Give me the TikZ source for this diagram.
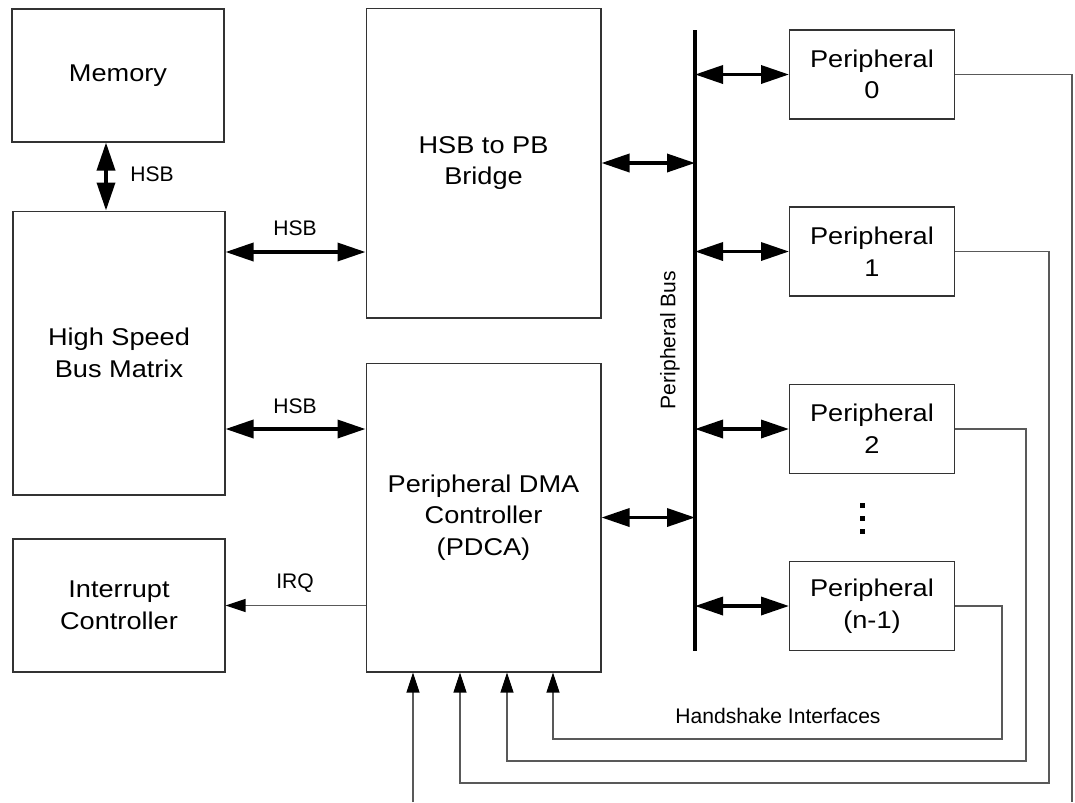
\documentclass[tikz,border=0pt]{standalone}
\usepackage{fontspec}
\setmainfont{Liberation Sans}
\newfontfamily\widesans{Liberation Sans}[FakeStretch=1.12]
\usetikzlibrary{arrows.meta}

\tikzset{
    block/.style = {draw = black!80, line width = 0.6pt, align = center, inner sep = 0pt,
        font = \widesans\fontsize{13.8}{18}\selectfont},
    busline/.style = {line width = 1.8pt},
    busarrow/.style = {line width = 2pt,
        {Triangle[length = 0.56cm, width = 0.36cm]}-{Triangle[length = 0.56cm, width = 0.36cm]}},
    sigarrow/.style = {draw = black!65, line width = 0.6pt,
        -{Triangle[length = 0.4cm, width = 0.26cm, color = black]}},
    sigline/.style = {draw = black!65, line width = 0.6pt},
    lbl/.style = {font = \fontsize{12}{14}\selectfont}
}

\begin{document}
\begin{tikzpicture}[x = 0.02cm, y = -0.02cm]
    \useasboundingbox (0,0) rectangle (1075,802);
    % left column
    \node [block, minimum width = 4.24cm, minimum height = 2.66cm](Mem) at (118,75.5){Memory};
    \node [block, minimum width = 4.24cm, minimum height = 5.68cm](HSBM) at (119,353){High Speed\\Bus Matrix};
    \node [block, minimum width = 4.24cm, minimum height = 2.66cm](IntC) at (119,605.5){Interrupt\\Controller};
    % middle column
    \node [block, minimum width = 4.7cm, minimum height = 6.2cm](Bridge) at (483.5,163){HSB to PB\\Bridge};
    \node [block, minimum width = 4.7cm, minimum height = 6.18cm](PDCA) at (483.5,517.5){Peripheral DMA\\Controller\\(PDCA)};
    % peripheral bus
    \coordinate (BusTop) at (695,30);
    \coordinate (BusBot) at (695,651);
    \draw [busline] (BusTop)--(BusBot);
    \node [lbl, rotate = 90] at (670,340){Peripheral Bus};
    % peripherals
    \node [block, minimum width = 3.3cm, minimum height = 1.78cm](P0) at (872,74.5){Peripheral\\0};
    \node [block, minimum width = 3.3cm, minimum height = 1.78cm](P1) at (872,251.5){Peripheral\\1};
    \node [block, minimum width = 3.3cm, minimum height = 1.78cm](P2) at (872,429){Peripheral\\2};
    \node [block, minimum width = 3.3cm, minimum height = 1.78cm](Pn) at (872,606){Peripheral\\(n-1)};
    \foreach \y in {505,518,531}
        \fill (860,\y-2.5) rectangle ++(5,5);
    % HSB links
    \coordinate (M) at (106,0);
    \draw [busarrow] (Mem.south -| M)--(HSBM.north -| M);
    \node [lbl] at (152,174){HSB};
    \coordinate (H1) at (0,252);
    \draw [busarrow] (HSBM.east |- H1)--(Bridge.west |- H1);
    \node [lbl] at (295,228){HSB};
    \coordinate (H2) at (0,429);
    \draw [busarrow] (HSBM.east |- H2)--(PDCA.west |- H2);
    \node [lbl] at (295,406){HSB};
    % peripheral bus links
    \draw [busarrow] (Bridge.east)--(Bridge.east -| BusTop);
    \draw [busarrow] (PDCA.east)--(PDCA.east -| BusTop);
    \foreach \p in {P0,P1,P2,Pn}
        \draw [busarrow] (\p.west -| BusTop)--(\p.west);
    % interrupt request
    \draw [sigarrow] (PDCA.west |- IntC.east)--(IntC.east);
    \node [lbl] at (295,583){IRQ};
    % handshake interfaces
    \coordinate (S0) at (413,802);
    \coordinate (S1) at (460,783);
    \coordinate (S2) at (507,761);
    \coordinate (S3) at (553,739);
    \draw [sigline] (P0.east) -| (1072,802);
    \draw [sigarrow] (S0)--(S0 |- PDCA.south);
    \draw [sigarrow] (P1.east) -| (1049,783)--(S1)--(S1 |- PDCA.south);
    \draw [sigarrow] (P2.east) -| (1026,761)--(S2)--(S2 |- PDCA.south);
    \draw [sigarrow] (Pn.east) -| (1002,739)--(S3)--(S3 |- PDCA.south);
    \node [lbl] at (778,716){Handshake Interfaces};
\end{tikzpicture}
\end{document}
